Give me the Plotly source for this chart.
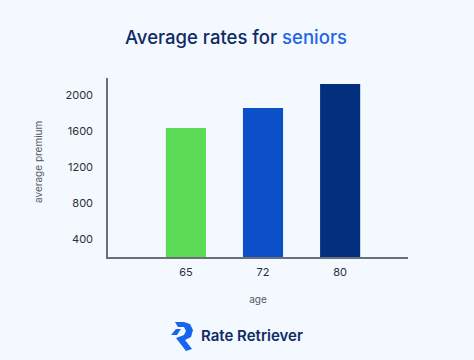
import plotly.graph_objects as go

ages = ["65", "72", "80"]
premiums = [1633, 1855, 2122]
colors = ["#5BDB55", "#0B50C8", "#022F7E"]
y_ticks = [400, 800, 1200, 1600, 2000]
y_labels = ["400", "800", "1200", "1600", "2000"]

W, H = 474, 360
L, R, T, B = 108, 408, 78, 257
FONT = "Inter"
NAVY = "#0F2A66"

def px(x):
    return (x - L) / (R - L)

def py(y):
    return (B - y) / (B - T)

fig = go.Figure(go.Bar(x=[0, 1, 2], y=premiums, marker=dict(color=colors, line=dict(width=0)), width=0.52))

logo = [(175, 322), (184, 322), (190, 324), (193, 330), (191, 337), (185, 340), (192, 349), (186, 351), (176, 338), (184, 335), (186, 331), (184, 327), (178, 327)]
wing = [(171, 335), (176, 329), (181, 329), (177, 335)]

def path(pts):
    return "M" + " L".join(f"{px(a):.4f},{py(b):.4f}" for a, b in pts) + " Z"

shapes = [
    dict(type="path", xref="paper", yref="paper", path=path(logo), fillcolor="#1565F0", line=dict(width=0)),
    dict(type="path", xref="paper", yref="paper", path=path(wing), fillcolor="#1565F0", line=dict(width=0)),
]

annotations = [
    dict(x=px(236), y=py(37), xref="paper", yref="paper", showarrow=False, xanchor="center", yanchor="middle",
         text=f'<span style="color:{NAVY}">Average rates for </span><span style="color:#1E66E6">seniors</span>',
         font=dict(family=FONT, size=18.5, weight=500)),
    dict(x=px(251.5), y=py(335), xref="paper", yref="paper", showarrow=False, xanchor="center", yanchor="middle",
         text="Rate Retriever", font=dict(family=FONT, size=15, color=NAVY, weight=600)),
    dict(x=px(38), y=py(162), xref="paper", yref="paper", showarrow=False, xanchor="center", yanchor="middle",
         text="average premium", textangle=-90, font=dict(family=FONT, size=10, color="#55585F")),
]

fig.update_layout(
    width=W, height=H, autosize=False,
    margin=dict(l=L, r=W - R, t=T, b=H - B),
    paper_bgcolor="#F4F9FF", plot_bgcolor="#F4F9FF",
    showlegend=False, shapes=shapes, annotations=annotations,
    font=dict(family=FONT, color="#3A3F4A"),
)
fig.update_xaxes(range=[-1.01, 2.88], tickmode="array", tickvals=[0, 1, 2], ticktext=ages,
                 showgrid=False, zeroline=False, showline=True, linecolor="#6A7078", linewidth=1.5,
                 ticks="", ticklabelstandoff=4, tickfont=dict(size=11, color="#2A2F38"),
                 title=dict(text="age", font=dict(size=10, color="#55585F"), standoff=18))
fig.update_yaxes(range=[200, 2189], tickmode="array", tickvals=y_ticks, ticktext=y_labels,
                 showgrid=False, zeroline=False, showline=True, linecolor="#6A7078", linewidth=1.5,
                 ticks="", ticklabelstandoff=11, tickfont=dict(size=11, color="#2A2F38"))
fig.write_html("out.html", post_script="document.body.style.margin='0';", config={"displayModeBar": False})
